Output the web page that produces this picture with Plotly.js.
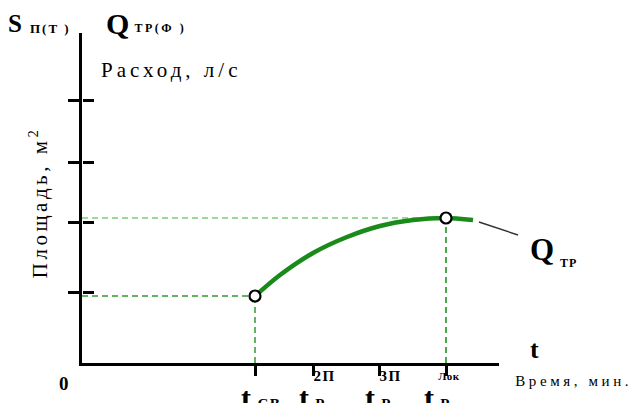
<!DOCTYPE html>
<html>
<head>
<meta charset="utf-8">
<script src="https://cdn.plot.ly/plotly-3.0.1.min.js"></script>
<style>
  html, body { margin: 0; padding: 0; background: #ffffff; }
  #chart { width: 631px; height: 403px; }
</style>
</head>
<body>
<div id="chart"></div>
<script>
// Flow curve Q_ТР: time (axis units) vs. area (axis units)
const curveTime = [17.3, 19.8, 23.1, 26.5, 29.8, 33.1, 36.4, 39.1];
const curveArea = [6.7, 8.8, 11.0, 12.6, 13.7, 14.3, 14.5, 14.3];

// Key points on the curve: start (t_СВ) and local peak (t_Р^Лок)
const keyTime = [17.3, 36.4];
const keyArea = [6.7, 14.5];

// Axis ticks
const areaTicks = [7.1, 14.1, 20.1, 26.3];
const timeTicks = [17.3, 23.1, 29.7, 36.4];
const timeTickSub = ['СВ', 'Р', 'Р', 'Р'];
const timeTickSup = ['', '2П', '3П', 'Лок'];

const SERIF = 'Liberation Serif, Times New Roman, serif';
const X_MAX = 41.7, Y_MAX = 33;

// plot area spans 82..499px horizontally and 33..363px vertically
const px = v => (v - 82) / 417;
const py = v => (363 - v) / 330;

const traces = [];

// dashed guide lines from each key point to the axes
const hColors = ['#2f9a2f', '#7ccc7c'];
const vColors = ['#3aa23a', '#1f941f'];
keyTime.forEach((t, i) => {
  traces.push({
    x: [0, t], y: [keyArea[i], keyArea[i]], mode: 'lines',
    line: {color: hColors[i], width: 1.6, dash: '6px,4px'},
    hoverinfo: 'skip', showlegend: false
  });
  traces.push({
    x: [t, t], y: [0, keyArea[i]], mode: 'lines',
    line: {color: vColors[i], width: 1.6, dash: '6px,4px'},
    hoverinfo: 'skip', showlegend: false
  });
});

// the curve itself
traces.push({
  x: curveTime, y: curveArea, mode: 'lines',
  line: {color: '#1a8a1a', width: 4.5, shape: 'spline', smoothing: 0.8},
  hoverinfo: 'skip', showlegend: false
});

// open circles at the key points
traces.push({
  x: keyTime, y: keyArea, mode: 'markers',
  marker: {size: 11, color: '#ffffff', line: {color: '#000000', width: 2.2}},
  hoverinfo: 'skip', showlegend: false
});

// carrier for the second (right-facing) set of area ticks
traces.push({
  x: keyTime, y: keyArea, yaxis: 'y2', mode: 'lines',
  line: {width: 0}, opacity: 0, hoverinfo: 'skip', showlegend: false
});

// annotations; letter spacing is applied per annotation through CSS,
// and the left edge is kept in place by shifting by half the added width
const annotations = [];
const spacing = [];
const plain = s => s.replace(/<[^>]*>/g, '');
const note = (text, x, y, size, opts, ls) => {
  ls = ls || 0;
  const o = opts || {};
  const extra = plain(text).length * ls;
  const anchor = o.xanchor || 'left';
  const comp = anchor === 'left' ? extra / 2 : (anchor === 'right' ? -extra / 2 : 0);
  spacing.push(ls);
  annotations.push(Object.assign({
    text: text, x: x, y: y, xref: 'paper', yref: 'paper', showarrow: false,
    font: {family: SERIF, size: size, color: '#000000'},
    xanchor: 'left', yanchor: 'middle'
  }, o, {xshift: (o.xshift || 0) + (o.textangle ? 0 : comp)}));
};

// time tick labels: t with stacked superscript / subscript
timeTicks.forEach((t, i) => {
  const sup = timeTickSup[i];
  const small = sup.length > 2;
  const shift = small ? -9 : -1;
  note('<b>t</b>', t, py(398), 30, {xref: 'x', xanchor: 'right', xshift: shift - 1});
  if (sup) {
    note('<b>' + sup + '</b>', t, py(376), small ? 11 : 15, {xref: 'x', xshift: shift - 1}, small ? 0.5 : 1.5);
  }
  note('<b>' + timeTickSub[i] + '</b>', t, py(404), 15, {xref: 'x', xshift: shift + 1}, 1.5);
});

// axis captions
note('<b>S</b>', px(6), py(23), 25);
note('<b>П(Т )</b>', px(28), py(29), 13, {}, 2);
note('<b>Q</b>', px(104), py(24), 30);
note('<b>ТР(Ф )</b>', px(132), py(28), 12, {}, 2.5);
note('Расход, л/с', px(99), py(70), 21, {}, 4);
note('Площадь, м<sup>2</sup>', px(38), py(203), 21, {xanchor: 'center', textangle: -90}, 3.5);
note('<b>0</b>', px(57), py(383), 19);
note('<b>t</b>', px(528), py(349), 26);
note('Время, мин.', px(513), py(381), 15, {}, 3.6);
note('<b>Q</b>', px(528), py(249), 31);
note('<b>ТР</b>', px(558), py(263), 12, {}, 1);

// per-annotation letter spacing
const css = spacing.map((s, i) => s ?
  '#chart g.annotation[data-index="' + i + '"] text { letter-spacing: ' + s + 'px; }' : ''
).join('\n');
const styleEl = document.createElement('style');
styleEl.textContent = css;
document.head.appendChild(styleEl);

const tickCommon = {
  showgrid: false, zeroline: false, showticklabels: false,
  ticks: 'outside', tickwidth: 3, tickcolor: '#000000', fixedrange: true
};

const layout = {
  width: 631, height: 403,
  margin: {l: 82, r: 132, t: 33, b: 40},
  paper_bgcolor: '#ffffff', plot_bgcolor: '#ffffff',
  showlegend: false,
  xaxis: Object.assign({}, tickCommon, {
    range: [0, X_MAX], tickvals: timeTicks, ticklen: 10,
    showline: true, linewidth: 3, linecolor: '#000000'
  }),
  yaxis: Object.assign({}, tickCommon, {
    range: [0, Y_MAX], tickvals: areaTicks, ticklen: 11,
    showline: true, linewidth: 3, linecolor: '#000000'
  }),
  yaxis2: Object.assign({}, tickCommon, {
    range: [0, Y_MAX], tickvals: areaTicks, ticklen: 11,
    overlaying: 'y', anchor: 'free', position: 0, side: 'right',
    showline: false
  }),
  annotations: annotations,
  // leader line from the end of the curve towards its label
  shapes: [{
    type: 'line', xref: 'paper', yref: 'paper',
    x0: px(479), y0: py(222), x1: px(518), y1: py(235),
    line: {color: '#333333', width: 1.4}
  }]
};

Plotly.newPlot('chart', traces, layout, {staticPlot: true, displayModeBar: false});
</script>
</body>
</html>
